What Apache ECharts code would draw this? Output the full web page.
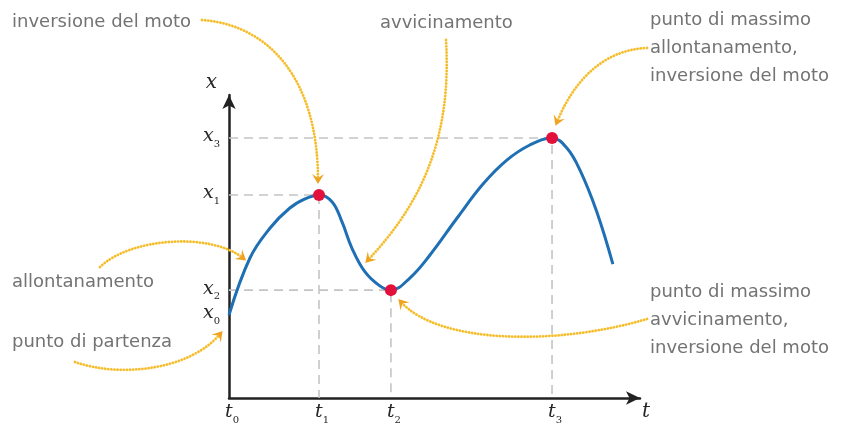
<!DOCTYPE html>
<html>
<head>
<meta charset="utf-8">
<script src="https://cdn.jsdelivr.net/npm/echarts@6/dist/echarts.min.js"></script>
<style>
  html, body { margin: 0; padding: 0; background: #fff; }
  #chart { width: 841px; height: 428px; }
</style>
</head>
<body>
<div id="chart"></div>
<script>
// Position x against time t along the motion
const tValues = [0, 5.1, 10.0, 14.8, 18.5, 21.9, 25.1, 27.5, 29.9, 33.1, 36.7, 39.4, 44.0, 48.9, 55.5, 61.8, 67.6, 73.2, 78.6, 82.2, 85.4, 89.5, 93.4];
const xValues = [27.4, 46.2, 56.1, 62.7, 65.7, 67.0, 64.7, 58.1, 49.5, 41.6, 37.0, 35.6, 39.6, 47.2, 59.4, 70.6, 78.5, 83.5, 85.8, 82.5, 75.2, 61.4, 44.2];

// Key instants: start, inversion, closest approach, farthest point
const keyT = [0, 21.9, 39.4, 78.6];
const keyX = [27.4, 67.0, 35.6, 85.8];
const keySubs = ['0', '1', '2', '3'];

// Annotation texts
const notes = [
  ['inversione del moto'],
  ['avvicinamento'],
  ['punto di massimo', 'allontanamento,', 'inversione del moto'],
  ['allontanamento'],
  ['punto di partenza'],
  ['punto di massimo', 'avvicinamento,', 'inversione del moto']
];

const curvePoints = tValues.map((t, i) => [t, xValues[i]]);

const mathFont = '"DejaVu Serif", "Liberation Serif", serif';
const labelRich = {
  m: { fontFamily: mathFont, fontStyle: 'italic', fontSize: 19, color: '#262626', lineHeight: 22, verticalAlign: 'top' },
  s: { fontFamily: mathFont, fontSize: 10, color: '#262626', lineHeight: 22, verticalAlign: 'bottom' }
};

const guideSeries = keyT.slice(1).map((t, k) => {
  const x = keyX[k + 1];
  return {
    type: 'line',
    data: [[0, x], [t, x], [t, 0]],
    symbol: 'none',
    silent: true,
    z: 1,
    lineStyle: { color: '#c4c4c4', width: 1.6, type: [9, 6] }
  };
});

const chart = echarts.init(document.getElementById('chart'), null, { renderer: 'canvas' });

chart.setOption({
  animation: false,
  backgroundColor: '#ffffff',
  grid: { left: 229, right: 201, top: 95, bottom: 30 },
  xAxis: {
    type: 'value',
    min: 0,
    max: 100,
    name: 't',
    nameLocation: 'end',
    nameGap: 0,
    nameTextStyle: { fontFamily: mathFont, fontStyle: 'italic', fontSize: 20, color: '#262626', align: 'left', verticalAlign: 'top', padding: [4, 0, 0, 2] },
    axisLine: { lineStyle: { color: '#222', width: 2.5 }, symbol: ['none', 'arrow'], symbolSize: [10, 14] },
    axisTick: { show: false },
    splitLine: { show: false },
    axisLabel: {
      customValues: keyT,
      margin: 5,
      padding: [0, 0, 0, 6],
      formatter: v => '{m|t}{s|' + keySubs[keyT.indexOf(v)] + '}',
      rich: labelRich
    }
  },
  yAxis: {
    type: 'value',
    min: 0,
    max: 100,
    name: 'x',
    nameLocation: 'end',
    nameGap: 2,
    nameTextStyle: { fontFamily: mathFont, fontStyle: 'italic', fontSize: 20, color: '#262626', align: 'right', padding: [0, 12, 0, 0] },
    axisLine: { lineStyle: { color: '#222', width: 2.5 }, symbol: ['none', 'arrow'], symbolSize: [10, 14] },
    axisTick: { show: false },
    splitLine: { show: false },
    axisLabel: {
      customValues: keyX,
      margin: 9,
      formatter: v => '{m|x}{s|' + keySubs[keyX.indexOf(v)] + '}',
      rich: labelRich
    }
  },
  series: [
    ...guideSeries,
    {
      type: 'line',
      data: curvePoints,
      smooth: 0.4,
      symbol: 'none',
      z: 3,
      lineStyle: { color: '#1f6fb4', width: 3 }
    },
    {
      type: 'scatter',
      data: keyT.slice(1).map((t, k) => [t, keyX[k + 1]]),
      symbolSize: 12,
      z: 4,
      itemStyle: { color: '#e2103b', opacity: 1 }
    }
  ]
});

// Text blocks and dotted pointer arrows
const noteFont = '18px "DejaVu Sans", sans-serif';
const noteColor = '#737373';
const noteLayout = [
  { x: 12, y: 8 },
  { x: 380, y: 9 },
  { x: 650, y: 6 },
  { x: 12, y: 268 },
  { x: 12, y: 328 },
  { x: 650, y: 278 }
];
const pointers = [
  [202, 20, 270, 25, 318, 80, 318, 180],
  [446, 40, 452, 140, 420, 205, 368, 260],
  [647, 48, 600, 50, 572, 85, 557, 122],
  [100, 267, 130, 238, 210, 232, 243, 258],
  [75, 362, 120, 378, 190, 370, 220, 334],
  [647, 319, 560, 345, 440, 345, 401, 302]
];

function arrowHead(p) {
  const [, , , , cx, cy, x, y] = p;
  let ux = x - cx, uy = y - cy;
  const len = Math.hypot(ux, uy);
  ux /= len; uy /= len;
  const tipX = x + ux * 4, tipY = y + uy * 4;
  const L = 10, W = 6, N = 4;
  const bx = tipX - ux * L, by = tipY - uy * L;
  const nx = -uy, ny = ux;
  return {
    type: 'polygon',
    shape: { points: [
      [tipX, tipY],
      [bx + nx * W, by + ny * W],
      [tipX - ux * (L - N), tipY - uy * (L - N)],
      [bx - nx * W, by - ny * W]
    ] },
    style: { fill: '#f0a322' },
    z: 10
  };
}

const graphics = [];
notes.forEach((lines, i) => {
  graphics.push({
    type: 'text',
    x: noteLayout[i].x,
    y: noteLayout[i].y,
    style: { text: lines.join('\n'), font: noteFont, fill: noteColor, lineHeight: 28, verticalAlign: 'top' },
    z: 10
  });
});
pointers.forEach(p => {
  graphics.push({
    type: 'bezierCurve',
    shape: { x1: p[0], y1: p[1], cpx1: p[2], cpy1: p[3], cpx2: p[4], cpy2: p[5], x2: p[6], y2: p[7] },
    style: { stroke: '#f5bd2a', lineWidth: 2.8, lineDash: [0.1, 3], lineCap: 'round', fill: null },
    z: 9
  });
  graphics.push(arrowHead(p));
});
chart.setOption({ graphic: graphics });
</script>
</body>
</html>
